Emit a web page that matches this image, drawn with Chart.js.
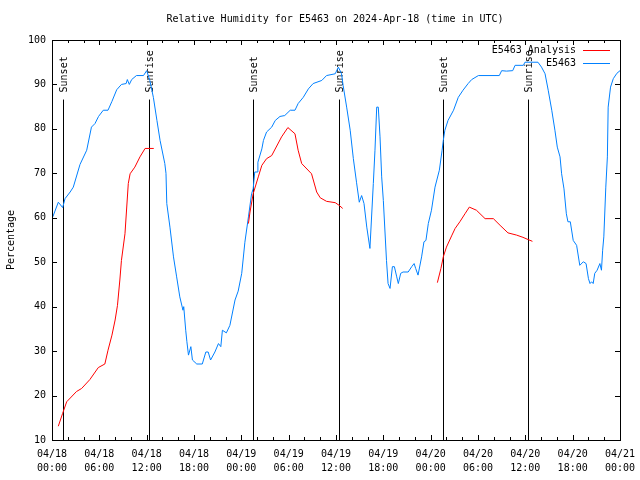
<!DOCTYPE html>
<html lang="en">
<head>
  <meta charset="UTF-8">
  <title>Relative Humidity for E5463</title>
  <script src="https://cdn.jsdelivr.net/npm/chart.js"></script>
  <style>
    body { margin: 0; background: #fff; }
  </style>
</head>
<body>
<canvas id="rhChart" width="640" height="480"></canvas>

<script>
  // hours since 04/18 00:00 UTC
  const obsHours = [0.1, 0.8, 1.35, 1.65, 2.3, 2.7, 3.55, 4.4, 5.0, 5.45, 5.9, 6.5, 7.1, 7.6, 8.2, 8.8, 9.4, 9.55, 9.8, 10.1,
    10.7, 11.6, 12.0, 12.4, 12.85, 13.3, 13.7, 14.3, 14.45, 14.55, 14.95, 15.4, 15.8, 16.2, 16.6, 16.7, 16.95, 17.1, 17.3, 17.6,
    17.8, 18.35, 19.05, 19.5, 19.8, 20.1, 20.65, 21.1, 21.4, 21.6, 22.1, 22.55, 23.2, 23.6, 24.05, 24.45, 24.9, 25.3, 25.5, 25.7,
    26.0, 26.1, 26.6, 26.8, 27.2, 27.85, 28.3, 28.9, 29.5, 30.2, 30.8, 31.2, 31.85, 32.5, 33.1, 34.2, 34.8, 35.9, 36.3, 36.7,
    36.9, 37.35, 37.8, 38.2, 38.6, 38.95, 39.25, 39.55, 39.9, 40.3, 40.73, 40.94, 41.16, 41.36, 41.58, 41.79, 42.0, 42.4, 42.6, 42.85,
    43.15, 43.4, 43.7, 43.9, 44.2, 44.5, 45.15, 45.6, 45.9, 46.1, 46.4, 46.85, 47.15, 47.4, 47.7, 48.1, 48.55, 49.1, 49.45, 49.6,
    49.8, 50.2, 50.9, 51.5, 52.1, 52.75, 53.2, 54.05, 56.7, 57.0, 57.6, 58.4, 58.7, 59.75, 59.95, 61.6, 62.05, 62.5, 62.9, 63.35,
    63.75, 64.05, 64.4, 64.6, 64.9, 65.2, 65.4, 65.7, 66.07, 66.5, 66.9, 67.35, 67.7, 68.0, 68.2, 68.4, 68.6, 68.8, 69.1, 69.45,
    69.65, 69.8, 69.95, 70.2, 70.4, 70.5, 70.8, 71.15, 71.6, 72.0];
  const obsValues = [60.2, 63.5, 62.3, 64.3, 65.8, 66.9, 72.0, 75.2, 80.4, 81.2, 82.8, 84.2, 84.2, 86.2, 88.8, 90.0, 90.2, 91.1, 90.0, 91.1,
    92.0, 92.0, 93.1, 90.9, 87.1, 81.9, 77.4, 72.2, 70.0, 63.2, 57.9, 51.2, 46.7, 42.2, 39.2, 40.0, 34.7, 32.1, 29.1, 31.0,
    28.0, 27.1, 27.1, 29.8, 29.8, 28.0, 29.8, 31.7, 31.0, 34.7, 34.1, 35.8, 41.5, 43.5, 47.5, 54.5, 60.2, 65.4, 66.5, 70.3,
    70.3, 72.5, 75.5, 77.4, 79.3, 80.4, 81.9, 82.8, 83.0, 84.2, 84.2, 85.7, 87.1, 89.0, 90.2, 90.9, 92.0, 92.4, 93.9, 92.4,
    89.8, 84.9, 79.7, 73.3, 68.0, 63.5, 65.0, 63.2, 57.9, 53.1, 67.7, 75.2, 84.9, 84.9, 78.2, 69.2, 63.9, 50.4, 45.2, 44.1,
    49.0, 49.0, 46.7, 45.2, 47.5, 47.8, 47.8, 49.0, 49.7, 48.6, 47.1, 51.2, 54.6, 54.9, 58.7, 61.7, 66.9, 70.7, 75.2, 77.4,
    79.7, 81.9, 84.2, 87.1, 88.7, 90.2, 91.1, 92.0, 92.0, 93.1, 93.0, 93.1, 94.3, 94.3, 95.0, 95.0, 93.9, 92.4, 88.7, 84.2,
    79.7, 75.9, 73.7, 69.9, 66.5, 60.9, 59.1, 59.1, 54.9, 53.8, 49.3, 50.1, 49.7, 46.3, 45.2, 45.6, 45.2, 47.5, 48.2, 49.7,
    48.2, 52.7, 55.7, 66.9, 73.7, 84.9, 89.4, 91.3, 92.5, 93.1];

  // analysis runs, null breaks the line between nights
  const anaHours = [0.8, 1.35, 1.86, 3.1, 3.76, 4.8, 5.87, 6.7, 7.1, 7.6, 8.0, 8.3, 8.6, 8.8, 9.25, 9.67, 9.9, 10.5, 11.15, 11.8, 12.9,
    18.0,
    24.9, 25.1, 25.5, 26.15, 26.6, 27.2, 27.85, 29.1, 29.9, 30.8, 31.2, 31.65, 32.9, 33.55, 34.0, 34.8, 35.9, 36.4, 36.85,
    42.0,
    48.85, 49.3, 49.6, 50.0, 50.7, 51.1, 51.7, 52.35, 52.9, 53.8, 54.9, 55.95, 56.8, 57.8, 58.9, 59.7, 60.35, 60.9];
  const anaValues = [13.1, 16.0, 18.6, 20.9, 21.6, 23.6, 26.3, 27.1, 30.2, 33.6, 37.0, 40.3, 46.0, 50.4, 56.4, 67.7, 69.9, 71.4, 73.7, 75.6, 75.6,
    null,
    58.7, 61.3, 65.4, 69.2, 71.8, 73.3, 74.0, 78.2, 80.3, 78.9, 75.2, 72.2, 69.9, 65.8, 64.5, 63.7, 63.4, 62.8, 62.1,
    null,
    45.4, 48.6, 51.2, 53.4, 56.1, 57.6, 59.1, 60.9, 62.4, 61.7, 59.8, 59.8, 58.3, 56.6, 56.1, 55.6, 55.1, 54.7];

  const eventHours = [1.43, 12.33, 25.52, 36.42, 49.6, 60.38];
  const eventLabels = ['Sunset', 'Sunrise', 'Sunset', 'Sunrise', 'Sunset', 'Sunrise'];
  const eventTop = 86.6;
  const eventLabelAt = 88.2;

  const xTickLabels = [
    ['04/18', '00:00'], ['04/18', '06:00'], ['04/18', '12:00'], ['04/18', '18:00'],
    ['04/19', '00:00'], ['04/19', '06:00'], ['04/19', '12:00'], ['04/19', '18:00'],
    ['04/20', '00:00'], ['04/20', '06:00'], ['04/20', '12:00'], ['04/20', '18:00'],
    ['04/21', '00:00']
  ];
  const yTicks = [10, 20, 30, 40, 50, 60, 70, 80, 90, 100];

  const seriesNames = ['E5463 Analysis', 'E5463'];
  const seriesColors = ['rgb(255, 0, 0)', 'rgb(0, 128, 255)'];

  const FONT = '"DejaVu Sans Mono", "Liberation Mono", monospace';

  const gnuplotDecor = {
    id: 'gnuplotDecor',
    beforeDatasetsDraw(chart) {
      const ctx = chart.ctx;
      const xs = chart.scales.x, ys = chart.scales.y;
      const bottom = chart.chartArea.bottom;
      ctx.save();
      ctx.strokeStyle = '#000';
      ctx.lineWidth = 1;
      ctx.fillStyle = '#000';
      ctx.font = '10px ' + FONT;
      eventHours.forEach((h, i) => {
        const px = Math.round(xs.getPixelForValue(h)) + 0.5;
        ctx.beginPath();
        ctx.moveTo(px, ys.getPixelForValue(eventTop));
        ctx.lineTo(px, bottom);
        ctx.stroke();
        ctx.save();
        ctx.translate(px + 1, ys.getPixelForValue(eventLabelAt));
        ctx.rotate(-Math.PI / 2);
        ctx.textAlign = 'left';
        ctx.textBaseline = 'middle';
        ctx.fillText(eventLabels[i], 0, 0);
        ctx.restore();
      });
      ctx.restore();
    },
    afterDraw(chart) {
      const ctx = chart.ctx;
      const {left, right, top, bottom} = chart.chartArea;
      const xs = chart.scales.x, ys = chart.scales.y;
      ctx.save();
      ctx.strokeStyle = '#000';
      ctx.lineWidth = 1;
      ctx.strokeRect(Math.round(left) + 0.5, Math.round(top) + 0.5,
        Math.round(right - left), Math.round(bottom - top));

      // inward ticks on all four sides
      ctx.beginPath();
      xs.ticks.forEach(t => {
        const px = Math.round(xs.getPixelForValue(t.value)) + 0.5;
        const len = t.value % 6 === 0 ? 5 : 3;
        ctx.moveTo(px, bottom); ctx.lineTo(px, bottom - len);
        ctx.moveTo(px, top); ctx.lineTo(px, top + len);
      });
      yTicks.forEach(v => {
        const py = Math.round(ys.getPixelForValue(v)) + 0.5;
        ctx.moveTo(left, py); ctx.lineTo(left + 5, py);
        ctx.moveTo(right, py); ctx.lineTo(right - 5, py);
      });
      ctx.stroke();

      // title
      ctx.fillStyle = '#000';
      ctx.font = '10px ' + FONT;
      ctx.textAlign = 'center';
      ctx.textBaseline = 'middle';
      ctx.fillText('Relative Humidity for E5463 on 2024-Apr-18 (time in UTC)', 335, 19);

      // legend, text right of the sample
      ctx.textAlign = 'right';
      seriesNames.forEach((name, i) => {
        const y = 50 + i * 13;
        ctx.fillStyle = '#000';
        ctx.fillText(name, 576, y);
        ctx.strokeStyle = seriesColors[i];
        ctx.beginPath();
        ctx.moveTo(583, y + 0.5);
        ctx.lineTo(610, y + 0.5);
        ctx.stroke();
      });
      ctx.restore();
    }
  };

  const toPoints = (xsArr, ysArr) => xsArr.map((x, i) => ({x: x, y: ysArr[i]}));

  new Chart(document.getElementById('rhChart').getContext('2d'), {
    type: 'line',
    data: {
      datasets: [
        {
          label: seriesNames[0],
          data: toPoints(anaHours, anaValues),
          borderColor: seriesColors[0],
          borderWidth: 1,
          pointRadius: 0,
          tension: 0,
          spanGaps: false,
          fill: false
        },
        {
          label: seriesNames[1],
          data: toPoints(obsHours, obsValues),
          borderColor: seriesColors[1],
          borderWidth: 1,
          pointRadius: 0,
          tension: 0,
          fill: false
        }
      ]
    },
    options: {
      responsive: false,
      animation: false,
      layout: {
        padding: {top: 40, right: 20, left: 0, bottom: 0}
      },
      plugins: {
        legend: {display: false},
        tooltip: {enabled: false}
      },
      scales: {
        x: {
          type: 'linear',
          min: 0,
          max: 72,
          grid: {display: false, drawTicks: false},
          border: {display: false},
          ticks: {
            stepSize: 2,
            autoSkip: false,
            maxRotation: 0,
            padding: 8,
            color: '#000',
            font: {family: FONT, size: 10, lineHeight: 1.35},
            callback: v => (v % 6 === 0 ? xTickLabels[v / 6] : '')
          },
          afterFit: s => {
            s.height = 40;
            s.paddingLeft = 0;
            s.paddingRight = 0;
          }
        },
        y: {
          min: 10,
          max: 100,
          grid: {display: false, drawTicks: false},
          border: {display: false},
          ticks: {
            stepSize: 10,
            padding: 6,
            color: '#000',
            font: {family: FONT, size: 10}
          },
          title: {
            display: true,
            text: 'Percentage',
            color: '#000',
            font: {family: FONT, size: 10},
            padding: {top: 5, bottom: 4}
          },
          afterFit: s => {
            s.width = 52;
            s.paddingTop = 0;
            s.paddingBottom = 0;
          }
        }
      }
    },
    plugins: [gnuplotDecor]
  });
</script>
</body>
</html>
